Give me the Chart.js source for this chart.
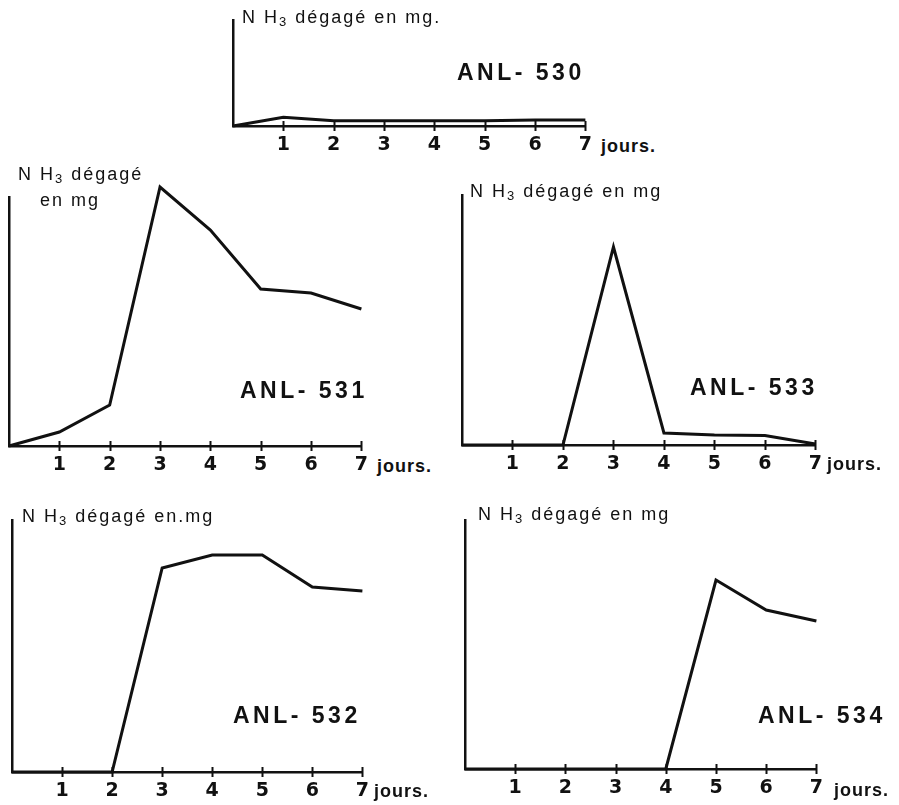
<!DOCTYPE html>
<html>
<head>
<meta charset="utf-8">
<script src="https://cdn.jsdelivr.net/npm/chart.js@4.4.1/dist/chart.umd.min.js"></script>
<style>
  html, body { margin: 0; padding: 0; background: #ffffff; }
  body { width: 899px; height: 805px; position: relative; overflow: hidden; font-family: "Liberation Sans", "DejaVu Sans", sans-serif; color: #111; }
  canvas { position: absolute; }
  .t { position: absolute; white-space: nowrap; line-height: 1; z-index: 2; }
  .title { font-size: 18px; letter-spacing: 2px; transform: translateY(-50%); }
  .title sub { font-size: 13px; vertical-align: -3px; }
  .anl { font-size: 23px; font-weight: bold; letter-spacing: 3.5px; transform: translateY(-50%); }
  .jours { font-size: 18px; font-weight: bold; letter-spacing: 1px; transform: translateY(-50%); }
</style>
</head>
<body>
<script>
// ---- data (values in arbitrary units; y-axis top = yMax) ----
const days = [0, 1, 2, 3, 4, 5, 6, 7];
const tickLabels = ['', '1', '2', '3', '4', '5', '6', '7'];
const anl530 = [0, 8.7, 5.3, 5.3, 5.3, 5.3, 6, 6];
const anl531 = [0, 14, 41, 259, 216, 157, 153, 137];
const anl533 = [0, 0, 0, 198, 12, 10, 9.5, 1];
const anl532 = [0, 0, 0, 204, 217, 217, 185, 181];
const anl534 = [0, 0, 0, 0, 0, 189, 159, 148];
const yMax = { a530: 106, a531: 249, a533: 250, a532: 252, a534: 249 };

// ---- layout ----
const panels = [
  { key: 'a530', data: anl530, L: 233, T: 20,  R: 586, B: 126,
    title: [{ text: 'N H<sub>3</sub> dégagé en mg.', x: 242, y: 18 }],
    anl: { text: 'ANL- 530', x: 457, y: 72 }, jours: { x: 601, y: 146 } },
  { key: 'a531', data: anl531, L: 9, T: 197, R: 362, B: 446,
    title: [{ text: 'N H<sub>3</sub> dégagé', x: 18, y: 175 }, { text: 'en mg', x: 40, y: 200 }],
    anl: { text: 'ANL- 531', x: 240, y: 390 }, jours: { x: 377, y: 466 } },
  { key: 'a533', data: anl533, L: 462, T: 195, R: 816, B: 445,
    title: [{ text: 'N H<sub>3</sub> dégagé en mg', x: 470, y: 192 }],
    anl: { text: 'ANL- 533', x: 690, y: 387 }, jours: { x: 827, y: 464 } },
  { key: 'a532', data: anl532, L: 12, T: 520, R: 363, B: 772,
    title: [{ text: 'N H<sub>3</sub> dégagé en.mg', x: 22, y: 517 }],
    anl: { text: 'ANL- 532', x: 233, y: 715 }, jours: { x: 374, y: 791 } },
  { key: 'a534', data: anl534, L: 465, T: 520, R: 817, B: 769,
    title: [{ text: 'N H<sub>3</sub> dégagé en mg', x: 478, y: 515 }],
    anl: { text: 'ANL- 534', x: 758, y: 715 }, jours: { x: 834, y: 790 } }
];

const padL = 10, padT = 30, padR = 14, padB = 34;

const crossTicks = {
  id: 'crossTicks',
  afterDraw(chart) {
    const xs = chart.scales.x, ctx = chart.ctx, b = chart.chartArea.bottom;
    ctx.save();
    ctx.strokeStyle = '#111';
    ctx.lineWidth = 2;
    for (let v = 1; v <= 7; v++) {
      const px = Math.round(xs.getPixelForValue(v)) + 0.5;
      ctx.beginPath();
      ctx.moveTo(px, b - 5);
      ctx.lineTo(px, b + 5);
      ctx.stroke();
    }
    ctx.restore();
  }
};

function addText(cls, html, x, y) {
  const d = document.createElement('div');
  d.className = 't ' + cls;
  d.innerHTML = html;
  d.style.left = x + 'px';
  d.style.top = y + 'px';
  document.body.appendChild(d);
}

panels.forEach(p => {
  const c = document.createElement('canvas');
  const w = p.R - p.L + padL + padR;
  const h = p.B - p.T + padT + padB;
  c.width = w; c.height = h;
  c.style.left = (p.L - padL) + 'px';
  c.style.top = (p.T - padT) + 'px';
  c.style.width = w + 'px'; c.style.height = h + 'px';
  document.body.appendChild(c);

  new Chart(c, {
    type: 'line',
    data: {
      datasets: [{
        data: days.map((d, i) => ({ x: d, y: p.data[i] })),
        borderColor: '#111',
        borderWidth: 3,
        pointRadius: 0,
        tension: 0,
        fill: false,
        clip: false
      }]
    },
    options: {
      responsive: false,
      animation: false,
      devicePixelRatio: 1,
      layout: { padding: { left: padL, top: padT, right: padR, bottom: 0 } },
      plugins: { legend: { display: false }, tooltip: { enabled: false }, title: { display: false } },
      scales: {
        x: {
          type: 'linear', min: 0, max: 7,
          border: { display: true, color: '#111', width: 2.5 },
          grid: { display: true, drawOnChartArea: false, drawTicks: false },
          ticks: {
            stepSize: 1, autoSkip: false, maxRotation: 0, padding: 8,
            color: '#111',
            font: { family: '"DejaVu Sans", sans-serif', size: 19, weight: 'bold' },
            callback: (v) => tickLabels[v] !== undefined ? tickLabels[v] : ''
          },
          afterFit: (s) => { s.height = padB; }
        },
        y: {
          type: 'linear', min: 0, max: yMax[p.key],
          border: { display: true, color: '#111', width: 2.5 },
          grid: { display: false },
          ticks: { display: false },
          afterFit: (s) => { s.width = 0; }
        }
      }
    },
    plugins: [crossTicks]
  });

  p.title.forEach(t => addText('title', t.text, t.x, t.y));
  addText('anl', p.anl.text, p.anl.x, p.anl.y);
  addText('jours', 'jours.', p.jours.x, p.jours.y);
});
</script>
</body>
</html>
